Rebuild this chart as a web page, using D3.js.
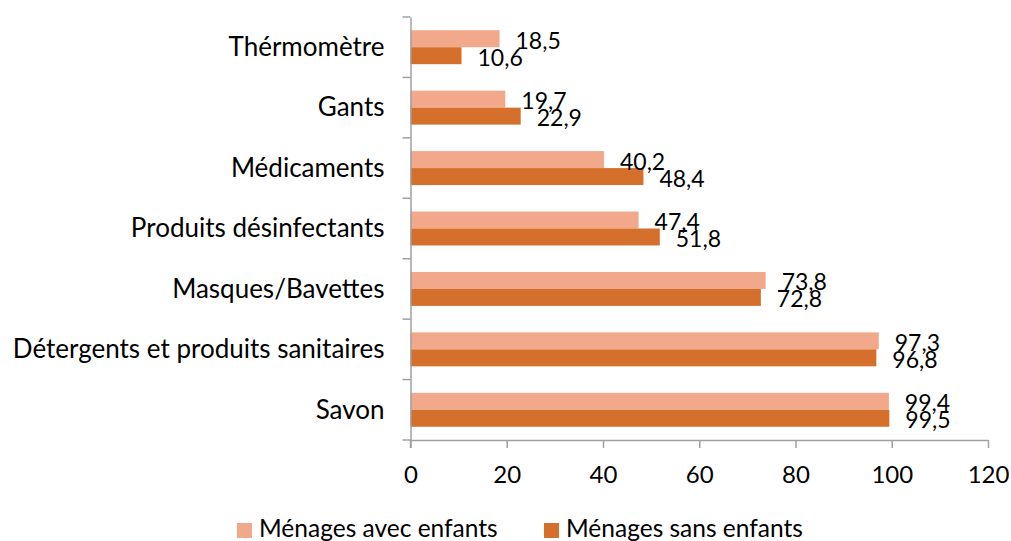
<!DOCTYPE html>
<html>
<head>
<meta charset="utf-8">
<script src="https://cdn.jsdelivr.net/npm/d3@7"></script>
<style>
  body { margin: 0; background: #fff; }
  svg { display: block; }
  text { font-family: Lato, "Open Sans", sans-serif; fill: #000; }
</style>
</head>
<body>
<div id="chart"></div>
<script>
//Chart data
var categories = ["Thérmomètre", "Gants", "Médicaments", "Produits désinfectants",
    "Masques/Bavettes", "Détergents et produits sanitaires", "Savon"];
var seriesNames = ["Ménages avec enfants", "Ménages sans enfants"];
var avecEnfants = [18.5, 19.7, 40.2, 47.4, 73.8, 97.3, 99.4];
var sansEnfants = [10.6, 22.9, 48.4, 51.8, 72.8, 96.8, 99.5];
var xTicks = [0, 20, 40, 60, 80, 100, 120];
var colors = ["#F2A88A", "#D4702B"];

var width = 1011, height = 541;
var margin = { top: 17, right: 23, bottom: 101, left: 410.5 };

//Font sizes tuned to the reference widths
var catFont = 26, valFont = 23, tickFont = 24, legendFont = 24.5;

var svg = d3.select("#chart").append("svg")
    .attr("width", width)
    .attr("height", height);

//Scales
var x = d3.scaleLinear()
    .domain([0, 120])
    .range([margin.left, width - margin.right]);

var y0 = d3.scaleBand()
    .domain(categories)
    .range([margin.top, height - margin.bottom]);

var y1 = d3.scaleBand()
    .domain(seriesNames)
    .range([0, y0.bandwidth()])
    .paddingOuter(0.78);

//Bars
var rows = categories.map((c, i) => ({ cat: c, values: [avecEnfants[i], sansEnfants[i]] }));

var groups = svg.selectAll("g.cat")
    .data(rows)
    .enter()
    .append("g")
    .attr("class", "cat")
    .attr("transform", d => "translate(0," + y0(d.cat) + ")");

groups.selectAll("rect")
    .data(d => d.values.map((v, j) => ({ name: seriesNames[j], v: v, j: j })))
    .enter()
    .append("rect")
    .attr("x", x(0))
    .attr("y", d => y1(d.name))
    .attr("width", d => x(d.v) - x(0))
    .attr("height", y1.bandwidth())
    .attr("fill", d => colors[d.j]);

//Value labels
groups.selectAll("text.val")
    .data(d => d.values.map((v, j) => ({ name: seriesNames[j], v: v })))
    .enter()
    .append("text")
    .attr("class", "val")
    .attr("x", d => x(d.v) + 16)
    .attr("y", d => y1(d.name) + y1.bandwidth() / 2 + 10)
    .style("font-size", valFont + "px")
    .text(d => String(d.v).replace(".", ","));

//Axes
var axisColor = "#a0a0a0";

var xAxis = svg.append("g")
    .attr("transform", "translate(0," + (height - margin.bottom) + ")")
    .call(d3.axisBottom(x).tickValues(xTicks).tickSize(8).tickSizeOuter(0).tickPadding(18));

var yAxis = svg.append("g")
    .attr("transform", "translate(" + margin.left + ",0)")
    .call(d3.axisLeft(y0).tickSize(0).tickPadding(26));

//Ticks at the category boundaries
var bounds = categories.map(c => y0(c)).concat([height - margin.bottom]);
yAxis.selectAll("line.bound")
    .data(bounds)
    .enter()
    .append("line")
    .attr("class", "bound")
    .attr("x1", -8)
    .attr("x2", 0)
    .attr("y1", d => d)
    .attr("y2", d => d);

[xAxis, yAxis].forEach(a => {
    a.select(".domain").attr("stroke", axisColor).attr("stroke-width", 1.5);
    a.selectAll("line").attr("stroke", axisColor).attr("stroke-width", 1.5);
    a.selectAll("text")
        .style("font-family", "Lato, sans-serif")
        .attr("fill", "#000");
});
xAxis.selectAll("text").style("font-size", tickFont + "px");
yAxis.selectAll(".tick text").style("font-size", catFont + "px").attr("dy", "0.34em");

//Extend the y axis down to the x tick length
yAxis.append("line")
    .attr("x1", 0).attr("x2", 0)
    .attr("y1", height - margin.bottom)
    .attr("y2", height - margin.bottom + 8)
    .attr("stroke", axisColor)
    .attr("stroke-width", 1.5);

//Legend
var legendX = [237, 544];
var legend = svg.selectAll("g.legend")
    .data(seriesNames)
    .enter()
    .append("g")
    .attr("class", "legend")
    .attr("transform", (d, i) => "translate(" + legendX[i] + ",523)");

legend.append("rect")
    .attr("width", 15)
    .attr("height", 15)
    .attr("fill", (d, i) => colors[i]);

legend.append("text")
    .attr("x", 22)
    .attr("y", 14)
    .style("font-size", legendFont + "px")
    .text(d => d);
</script>
</body>
</html>
